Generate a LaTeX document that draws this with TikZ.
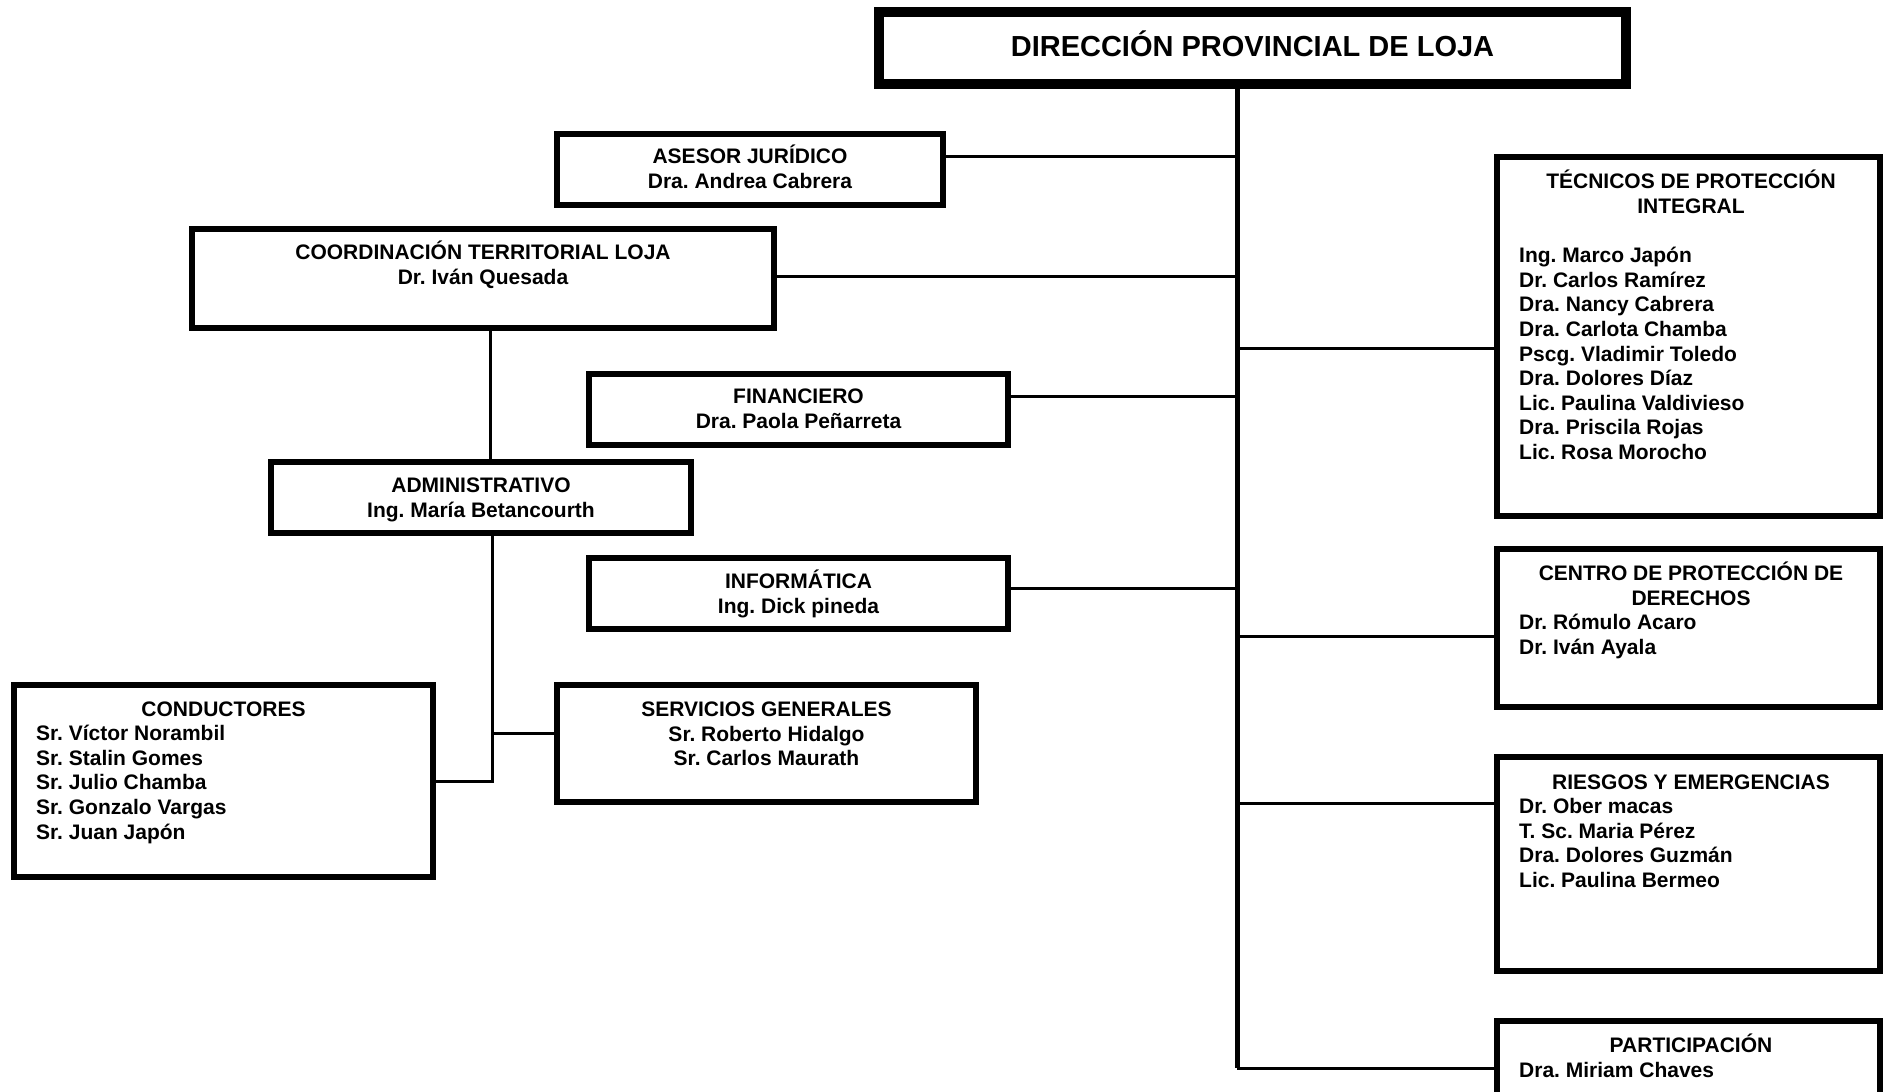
\documentclass[tikz,border=0pt]{standalone}
\usepackage{fontspec}
\setmainfont{Liberation Sans}
\frenchspacing
\newcommand\mystrut{\rule{0pt}{20pt}}
\newcommand\bigstrut{\rule{0pt}{28pt}}
\tikzset{
  box/.style={draw, rectangle, line width=6pt, inner sep=0pt},
  txt/.style={font=\fontsize{21}{24.6}\selectfont\bfseries\frenchspacing, inner sep=0pt, anchor=north, align=center},
  lst/.style={font=\fontsize{21}{24.6}\selectfont\bfseries\frenchspacing, inner sep=0pt, anchor=north west, align=left},
  conn/.style={line width=3pt},
  trunkline/.style={line width=5pt}
}
\begin{document}
\begin{tikzpicture}[x=1pt,y=-1pt]
\useasboundingbox (0,0) rectangle (1883,1092);
\clip (0,0) rectangle (1883,1092);

% top box
\node[box, line width=8pt, minimum width=749pt, minimum height=74pt] (top) at (1252.5,48) {};
\draw[line width=2.5pt] ([shift={(8.5,8.5)}]top.north west) rectangle ([shift={(-8.5,-8.5)}]top.south east);
\node[inner sep=0pt, anchor=north, font=\fontsize{29}{34}\selectfont\bfseries] (toptxt) at (1252.5,28.4) {\bigstrut DIRECCIÓN PROVINCIAL DE LOJA};

% left column boxes
\node[box, minimum width=386pt, minimum height=71pt] (asesor) at (750,169.5) {};
\node[txt] (asesortxt) at (750,143.5) {\mystrut ASESOR JURÍDICO\\Dra. Andrea Cabrera};

\node[box, minimum width=582pt, minimum height=99pt] (coord) at (483,278.5) {};
\node[txt] (coordtxt) at (483,239.5) {\mystrut COORDINACIÓN TERRITORIAL LOJA\\Dr. Iván Quesada};

\node[box, minimum width=419pt, minimum height=71pt] (fin) at (798.5,409.5) {};
\node[txt] (fintxt) at (798.5,383.5) {\mystrut FINANCIERO\\Dra. Paola Peñarreta};

\node[box, minimum width=420pt, minimum height=71pt] (admin) at (481,497.5) {};
\node[txt] (admintxt) at (481,472.5) {\mystrut ADMINISTRATIVO\\Ing. María Betancourth};

\node[box, minimum width=419pt, minimum height=71pt] (info) at (798.5,593.5) {};
\node[txt] (infotxt) at (798.5,568.5) {\mystrut INFORMÁTICA\\Ing. Dick pineda};

\node[box, minimum width=419pt, minimum height=117pt] (serv) at (766.5,743.5) {};
\node[txt] (servtxt) at (766.5,696.5) {\mystrut SERVICIOS GENERALES\\Sr. Roberto Hidalgo\\Sr. Carlos Maurath};

\node[box, minimum width=419pt, minimum height=192pt] (cond) at (223.5,781) {};
\node[txt] (condtxt) at (223.5,696.5) {\mystrut CONDUCTORES};
\node[lst] (condlst) at (36,720.5) {\mystrut Sr. Víctor Norambil\\Sr. Stalin Gomes\\Sr. Julio Chamba\\Sr. Gonzalo Vargas\\Sr. Juan Japón};

% right column boxes
\node[box, minimum width=383pt, minimum height=359pt] (tec) at (1688.5,336.5) {};
\node[txt] (tectxt) at (1691,168.5) {\mystrut TÉCNICOS DE PROTECCIÓN\\INTEGRAL};
\node[lst] (teclst) at (1519,242.5) {\mystrut Ing. Marco Japón\\Dr. Carlos Ramírez\\Dra. Nancy Cabrera\\Dra. Carlota Chamba\\Pscg. Vladimir Toledo\\Dra. Dolores Díaz\\Lic. Paulina Valdivieso\\Dra. Priscila Rojas\\Lic. Rosa Morocho};

\node[box, minimum width=383pt, minimum height=158pt] (centro) at (1688.5,628) {};
\node[txt] (centrotxt) at (1691,560.5) {\mystrut CENTRO DE PROTECCIÓN DE\\DERECHOS};
\node[lst] (centrolst) at (1519,609.5) {\mystrut Dr. Rómulo Acaro\\Dr. Iván Ayala};

\node[box, minimum width=383pt, minimum height=214pt] (riesgos) at (1688.5,864) {};
\node[txt] (riesgostxt) at (1691,769.5) {\mystrut RIESGOS Y EMERGENCIAS};
\node[lst] (riesgoslst) at (1519,793.5) {\mystrut Dr. Ober macas\\T. Sc. Maria Pérez\\Dra. Dolores Guzmán\\Lic. Paulina Bermeo};

\node[box, minimum width=383pt, minimum height=79pt] (part) at (1688.5,1060.5) {};
\node[txt] (parttxt) at (1691,1032.5) {\mystrut PARTICIPACIÓN};
\node[lst] (partlst) at (1519,1057.5) {\mystrut Dra. Miriam Chaves};

% trunk
\coordinate (tend) at (1237,1068);
\draw[trunkline] (top.south -| tend) -- (tend);

% branches from trunk
\coordinate (tA) at (1237,156);
\coordinate (tC) at (1237,276);
\coordinate (tF) at (1237,396);
\coordinate (tI) at (1237,588);
\coordinate (tT) at (1237,348);
\coordinate (tCe) at (1237,636);
\coordinate (tR) at (1237,803);
\draw[conn] (tA) -- (tA -| asesor.east);
\draw[conn] (tC) -- (tC -| coord.east);
\draw[conn] (tF) -- (tF -| fin.east);
\draw[conn] (tI) -- (tI -| info.east);
\draw[conn] (tT) -- (tT -| tec.west);
\draw[conn] (tCe) -- (tCe -| centro.west);
\draw[conn] (tR) -- (tR -| riesgos.west);
\draw[conn] (tend) -- (tend -| part.west);

% administrative chain
\coordinate (cx) at (490,0);
\draw[conn] (coord.south -| cx) -- (admin.north -| cx);
\coordinate (ad) at (492,781);
\coordinate (sv) at (492,733);
\draw[conn] (admin.south -| ad) -- (ad) -- (ad -| cond.east);
\draw[conn] (sv) -- (sv -| serv.west);
\end{tikzpicture}
\end{document}
